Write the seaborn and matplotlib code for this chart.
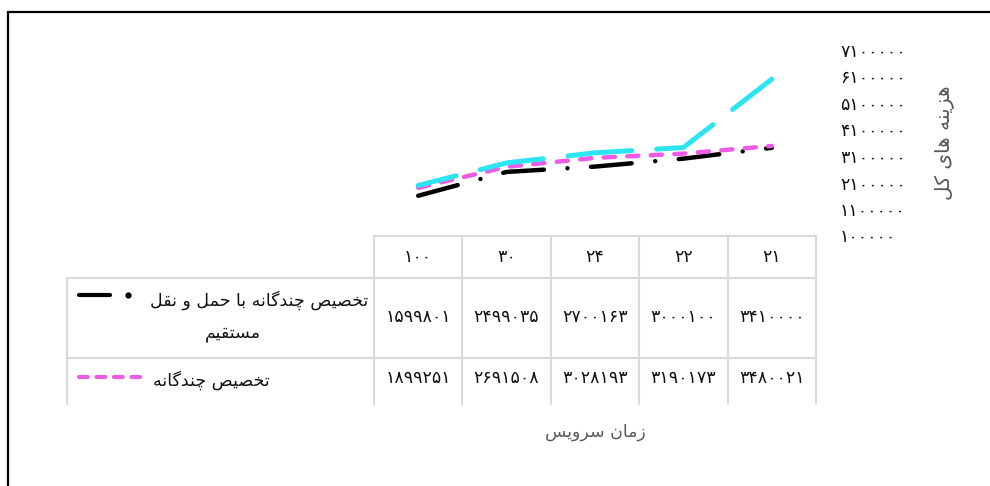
import numpy as np
import pandas as pd
import matplotlib
matplotlib.use("Agg")
import matplotlib.pyplot as plt
import seaborn as sns
from matplotlib import transforms, font_manager, ft2font
from matplotlib.ticker import FuncFormatter, FixedLocator

# ---------------- data (table order: right-to-left) ----------------
categories = ["21", "22", "24", "30", "100"]
direct_cost = [3410000, 3000100, 2700163, 2499035, 1599801]
multi_cost = [3480021, 3190173, 3028193, 2691508, 1899251]
third_cost = [6000000, 3420000, 3220000, 2840000, 1990000]
y_ticks = [100000, 1100000, 2100000, 3100000, 4100000, 5100000, 6100000, 7100000]

name_direct_line1 = "تخصیص چندگانه با حمل و نقل"
name_direct_line2 = "مستقیم"
name_multi = "تخصیص چندگانه"
x_title = "زمان سرویس"
y_title = "هزینه های کل"

BLACK = "#000000"
PINK = "#EE5BE5"
CYAN = "#2DE5F0"
GRID = "#D9D9D9"
GREY = "#595959"
TXT = "#111111"

# ---------------- Persian shaping helpers ----------------
sns.set_theme(style="white")
plt.rcParams["font.family"] = ["DejaVu Sans"]

_font_path = font_manager.findfont("DejaVu Sans")
CMAP = ft2font.FT2Font(_font_path).get_charmap()

FORMS = {
    "\u0627": ("\uFE8D", "\uFE8E"),
    "\u062F": ("\uFEA9", "\uFEAA"),
    "\u0631": ("\uFEAD", "\uFEAE"),
    "\u0632": ("\uFEAF", "\uFEB0"),
    "\u0648": ("\uFEED", "\uFEEE"),
    "\u0628": ("\uFE8F", "\uFE90", "\uFE91", "\uFE92"),
    "\u062A": ("\uFE95", "\uFE96", "\uFE97", "\uFE98"),
    "\u062D": ("\uFEA1", "\uFEA2", "\uFEA3", "\uFEA4"),
    "\u062E": ("\uFEA5", "\uFEA6", "\uFEA7", "\uFEA8"),
    "\u0633": ("\uFEB1", "\uFEB2", "\uFEB3", "\uFEB4"),
    "\u0635": ("\uFEB9", "\uFEBA", "\uFEBB", "\uFEBC"),
    "\u0642": ("\uFED5", "\uFED6", "\uFED7", "\uFED8"),
    "\u0644": ("\uFEDD", "\uFEDE", "\uFEDF", "\uFEE0"),
    "\u0645": ("\uFEE1", "\uFEE2", "\uFEE3", "\uFEE4"),
    "\u0646": ("\uFEE5", "\uFEE6", "\uFEE7", "\uFEE8"),
    "\u0647": ("\uFEE9", "\uFEEA", "\uFEEB", "\uFEEC"),
    "\u06CC": ("\uFBFC", "\uFBFD", "\uFBFE", "\uFBFF"),
    "\u0686": ("\uFB7A", "\uFB7B", "\uFB7C", "\uFB7D"),
    "\u06AF": ("\uFB92", "\uFB93", "\uFB94", "\uFB95"),
    "\u06A9": ("\uFB8E", "\uFB8F", "\uFB90", "\uFB91"),
}


def shape(text):
    text = text.replace("\u064A", "\u06CC").replace("\u0643", "\u06A9")
    out = []
    n = len(text)
    for i, ch in enumerate(text):
        forms = FORMS.get(ch)
        if forms is None:
            out.append(ch)
            continue
        prev = text[i - 1] if i > 0 else None
        nxt = text[i + 1] if i < n - 1 else None
        jp = prev in FORMS and len(FORMS[prev]) == 4
        jn = nxt in FORMS and len(forms) == 4
        if jp and jn:
            f = forms[3]
        elif jp:
            f = forms[1]
        elif jn:
            f = forms[2]
        else:
            f = forms[0]
        out.append(f if ord(f) in CMAP else ch)
    return "".join(reversed(out))


FA = str.maketrans("0123456789", "۰۱۲۳۴۵۶۷۸۹")


def to_fa(v):
    return str(v).translate(FA)


# ---------------- figure ----------------
W, H = 990, 486
fig = plt.figure(figsize=(W / 100, H / 100), dpi=100)
fig.patch.set_facecolor("white")


def fx(px):
    return px / W


def fy(py):
    return 1 - py / H


AX_L, AX_R, AX_T, AX_B = 374, 816, 50, 235.5
ax = fig.add_axes([fx(AX_L), fy(AX_B), (AX_R - AX_L) / W, (AX_B - AX_T) / H])
ax.set_facecolor("none")

df = pd.DataFrame({
    "pos": np.arange(len(categories)),
    "category": categories,
    "direct": direct_cost,
    "multi": multi_cost,
    "third": third_cost,
})
df_lr = df.iloc[::-1]  # draw from left (100) to right (21)

sns.lineplot(data=df_lr, x="pos", y="direct", ax=ax, sort=False, color=BLACK, lw=3.2)
ln = ax.lines[-1]
ln.set_linestyle((0, (9.2, 5.3, 0.01, 5.3)))
ln.set_dash_capstyle("round")

sns.lineplot(data=df_lr, x="pos", y="multi", ax=ax, sort=False, color=PINK, lw=3.2)
ln = ax.lines[-1]
ln.set_linestyle((0, (2.5, 2.8)))
ln.set_dash_capstyle("round")

sns.lineplot(data=df_lr, x="pos", y="third", ax=ax, sort=False, color=CYAN, lw=3.6)
ln = ax.lines[-1]
ln.set_linestyle((5.0, (12.8, 5.0)))
ln.set_dash_capstyle("round")

ax.set_xlim(len(categories) - 0.5, -0.5)
ax.set_ylim(y_ticks[0], y_ticks[-1])
ax.set_xticks([])
ax.yaxis.set_major_locator(FixedLocator(y_ticks))
ax.yaxis.set_major_formatter(FuncFormatter(lambda v, p: to_fa(int(round(v)))))
ax.yaxis.tick_right()
ax.tick_params(axis="y", length=0, pad=17.3, labelsize=12.5, labelcolor=TXT)
for s in ax.spines.values():
    s.set_visible(False)
ax.grid(False)

ax.set_xlabel(shape(x_title), fontsize=12.5, color=GREY, va="center", ha="center")
ax.xaxis.set_label_coords(0.5, (AX_B - 432) / (AX_B - AX_T))
ax.yaxis.set_label_position("right")
ax.set_ylabel(shape(y_title), fontsize=14.5, color=GREY, rotation=90, va="center", ha="center")
ax.yaxis.set_label_coords((944 - AX_L) / (AX_R - AX_L), 0.5)

# ---------------- overlay in pixel units: table, legend keys, frame ----------------
ov = fig.add_axes([0, 0, 1, 1])
ov.set_xlim(0, W)
ov.set_ylim(H, 0)
ov.axis("off")
ov.set_zorder(-1)
blend = transforms.blended_transform_factory(ax.transData, ov.transData)

TOP, R1, R2, CUT = 235.5, 278, 358, 404
LEFT = 67
bounds = np.arange(len(categories) + 1) - 0.5
for b in bounds:
    ov.plot([b, b], [TOP, CUT], transform=blend, color=GRID, lw=1.5, clip_on=False)
ov.plot([bounds[0], bounds[-1]], [TOP, TOP], transform=blend, color=GRID, lw=1.5, clip_on=False)
ov.plot([LEFT, AX_R], [R1, R1], color=GRID, lw=1.5)
ov.plot([LEFT, AX_R], [R2, R2], color=GRID, lw=1.5)
ov.plot([LEFT, LEFT], [R1, CUT], color=GRID, lw=1.5)

for i, cat in enumerate(categories):
    ov.text(i, 257, to_fa(cat), transform=blend, ha="center", va="center", fontsize=12.5, color=TXT)
    ov.text(i, 317, to_fa(direct_cost[i]), transform=blend, ha="center", va="center", fontsize=12.5, color=TXT)
    ov.text(i, 378, to_fa(multi_cost[i]), transform=blend, ha="center", va="center", fontsize=12.5, color=TXT)

# row labels with legend keys
ov.plot([79, 110], [295, 295], color=BLACK, lw=3, solid_capstyle="round")
ov.plot([128], [295], "o", color=BLACK, ms=3.5)
ov.text(368, 300, shape(name_direct_line1), ha="right", va="center", fontsize=12.5, color=TXT)
ov.text(233, 333, shape(name_direct_line2), ha="center", va="center", fontsize=12.5, color=TXT)
kl = ov.plot([79, 140], [377, 377], color=PINK, lw=3)[0]
kl.set_linestyle((0, (2.1, 2.1)))
kl.set_dash_capstyle("round")
ov.text(153, 380, shape(name_multi), ha="left", va="center", fontsize=12.5, color=TXT)

# outer frame (left and top edges)
ov.plot([7.5, 7.5, W + 5], [H + 5, 12.5, 12.5], color="black", lw=1.6, clip_on=False,
        solid_joinstyle="miter")

fig.savefig("out.png", dpi=100, facecolor="white")
